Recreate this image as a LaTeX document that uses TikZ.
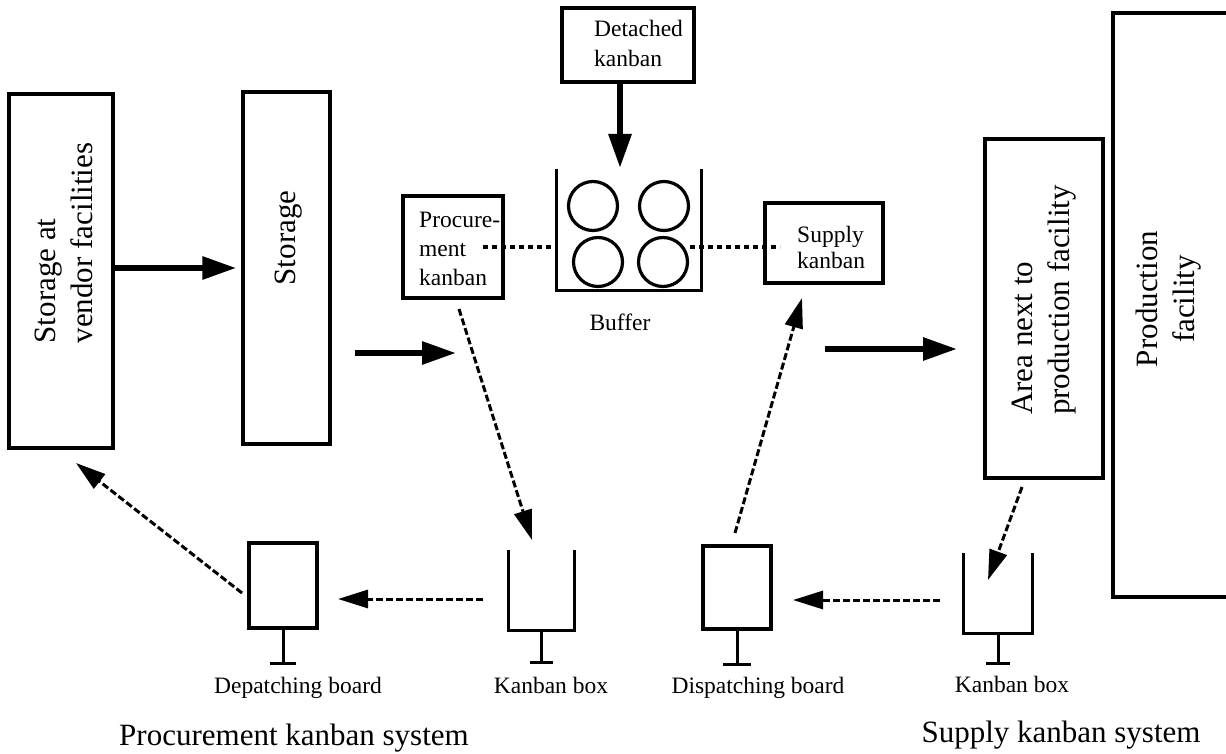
\documentclass[tikz,border=0pt]{standalone}
\usepackage{fontspec}
\setmainfont{Liberation Serif}
\usetikzlibrary{arrows.meta}
\begin{document}
\begin{tikzpicture}[x=1pt,y=-1pt,
  box/.style={draw, line width=3.4pt, inner sep=0pt},
  ghost/.style={inner sep=0pt},
  wall/.style={line width=3.2pt},
  big/.style={font=\fontsize{31}{37}\selectfont, inner sep=0pt},
  small/.style={font=\fontsize{23.5}{28}\selectfont, inner sep=0pt},
  thickarrow/.style={line width=6pt, -{Triangle[length=34pt,width=22pt]}},
  dasharrow/.style={line width=3pt, dash pattern=on 7pt off 3pt, -{Triangle[length=30pt,width=18pt]}},
  dotline/.style={line width=3.2pt, dash pattern=on 5pt off 4pt},
  stem/.style={line width=3pt},
  foot/.style={line width=3.4pt}]
\useasboundingbox (0,0) rectangle (1226,754);
\clip (0,0) rectangle (1226,754);

% left big boxes
\node[box, minimum width=104pt, minimum height=354pt] (vendor) at (61,271) {};
\node[big, rotate=90, align=left] (vendortext) at (64,243) {Storage at\\vendor facilities};
\node[box, minimum width=87pt, minimum height=352pt] (storage) at (286.5,268) {};
\node[big, rotate=90] (storagetext) at (289,238) {Storage};
\draw[thickarrow, shorten >=5pt] (vendor.east |- storage.west) -- (storage.west);

\coordinate (s1) at (355,353);
\coordinate (s2) at (456,353);
\draw[thickarrow] (s1) -- (s2);

% detached kanban
\node[box, minimum width=132pt, minimum height=74pt] (detached) at (628,45) {};
\node[small, anchor=base west] (det1) at (594,37) {Detached};
\node[small, anchor=base west] (det2) at (594,67) {kanban};

% buffer
\node[ghost, minimum width=144pt, minimum height=121pt] (buffer) at (629,229.5) {};
\draw[wall] (buffer.north west) -- (buffer.south west) -- (buffer.south east) -- (buffer.north east);
\coordinate (buftop) at (620,168);
\draw[thickarrow] (detached.south -| buftop) -- (buftop);
\node[circle, draw, line width=3.2pt, minimum size=49pt, inner sep=0pt] (c1) at (593,206) {};
\node[circle, draw, line width=3.2pt, minimum size=49pt, inner sep=0pt] (c2) at (664,206) {};
\node[circle, draw, line width=3.2pt, minimum size=49pt, inner sep=0pt] (c3) at (598,262) {};
\node[circle, draw, line width=3.2pt, minimum size=49pt, inner sep=0pt] (c4) at (663,262) {};
\node[small, anchor=base] (buflabel) at (620,330) {Buffer};

% procurement kanban
\node[box, minimum width=100pt, minimum height=102pt] (pk) at (453,247) {};
\node[small, anchor=base west] (pk1) at (419,227) {Procure-};
\node[small, anchor=base west] (pk2) at (419,256) {ment};
\node[small, anchor=base west] (pk3) at (419,285) {kanban};

% supply kanban
\node[box, minimum width=118pt, minimum height=80pt] (sk) at (824,243) {};
\node[small, anchor=base west] (sk1) at (797,242) {Supply};
\node[small, anchor=base west] (sk2) at (797,268) {kanban};

% dotted line
\coordinate (dl1) at (483,247);
\coordinate (dr1) at (690,247);
\coordinate (dr2) at (780,247);
\draw[dotline] (dl1) -- (dl1 -| buffer.west);
\draw[dotline] (dr1) -- (dr2);

% right side
\node[box, minimum width=118pt, minimum height=339pt] (area) at (1044,308.5) {};
\node[big, rotate=90, align=left] (areatext) at (1044,300) {Area next to\\production facility};
\node[box, minimum width=140pt, minimum height=584pt] (prod) at (1183,305) {};
\node[big, rotate=90, align=center] (prodtext) at (1169,299) {Production\\facility};

\coordinate (t1) at (825,349);
\coordinate (t2) at (957,349);
\draw[thickarrow] (t1) -- (t2);

% bottom: depatching board
\node[box, minimum width=68pt, minimum height=85pt] (db1) at (283,585.5) {};
\draw[stem] (db1.south) -- ++(0,34) coordinate (db1f);
\draw[foot] ([xshift=-13pt]db1f) -- ([xshift=13pt]db1f);
\node[small, anchor=base] (db1label) at (298,693) {Depatching board};

% left kanban box
\node[ghost, minimum width=65pt, minimum height=80pt] (kb1) at (541.5,590) {};
\draw[wall] (kb1.north west) -- (kb1.south west) -- (kb1.south east) -- (kb1.north east);
\draw[stem] (kb1.south) -- ++(0,32) coordinate (kb1f);
\draw[foot] ([xshift=-11.5pt]kb1f) -- ([xshift=11.5pt]kb1f);
\node[small, anchor=base] (kb1label) at (551,693) {Kanban box};

% dispatching board
\node[box, minimum width=68pt, minimum height=83pt] (db2) at (737,587.5) {};
\draw[stem] (db2.south) -- ++(0,34) coordinate (db2f);
\draw[foot] ([xshift=-14pt]db2f) -- ([xshift=14pt]db2f);
\node[small, anchor=base] (db2label) at (758,693) {Dispatching board};

% right kanban box
\node[ghost, minimum width=68pt, minimum height=80pt] (kb2) at (998,593) {};
\draw[wall] (kb2.north west) -- (kb2.south west) -- (kb2.south east) -- (kb2.north east);
\draw[stem] (kb2.south) -- ++(0,30) coordinate (kb2f);
\draw[foot] ([xshift=-12pt]kb2f) -- ([xshift=12pt]kb2f);
\node[small, anchor=base] (kb2label) at (1012,692) {Kanban box};

% titles
\node[big, anchor=base] (ptitle) at (294,745) {Procurement kanban system};
\node[big, anchor=base] (stitle) at (1061,742) {Supply kanban system};

% dashed arrows
\coordinate (a1s) at (459,309);
\coordinate (a1e) at (532,540);
\draw[dasharrow] (a1s) -- (a1e);
\coordinate (a2s) at (735,533);
\coordinate (a2e) at (802,298);
\draw[dasharrow] (a2s) -- (a2e);
\coordinate (a3s) at (1022,487);
\coordinate (a3e) at (988,580);
\draw[dasharrow] (a3s) -- (a3e);
\coordinate (a4s) at (940,600);
\coordinate (a4e) at (793,600);
\draw[dasharrow] (a4s) -- (a4e);
\coordinate (a5s) at (483,599);
\coordinate (a5e) at (338,599);
\draw[dasharrow] (a5s) -- (a5e);
\coordinate (a6s) at (242,593);
\coordinate (a6e) at (76,463);
\draw[dasharrow] (a6s) -- (a6e);
\end{tikzpicture}
\end{document}
